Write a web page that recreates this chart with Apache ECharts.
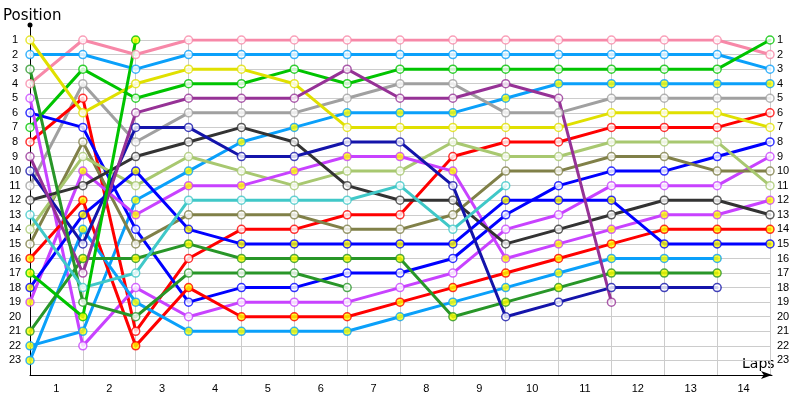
<!DOCTYPE html>
<html>
<head>
<meta charset="utf-8">
<script src="https://cdn.jsdelivr.net/npm/echarts@6/dist/echarts.min.js"></script>
<style>
    html, body { margin: 0; padding: 0; background: #fff; }
    #chart { width: 800px; height: 400px; }
</style>
</head>
<body>
<div id="chart"></div>
<script>
    // 圈数标签（写在两个计时点中间）
    let lapLabels = ['1', '2', '3', '4', '5', '6', '7', '8', '9', '10', '11', '12', '13', '14']
    // 名次标签
    let positionLabels = ['1', '2', '3', '4', '5', '6', '7', '8', '9', '10', '11', '12',
        '13', '14', '15', '16', '17', '18', '19', '20', '21', '22', '23']

    // 每辆车在计时点 0..14 的名次，提前退赛的数组较短
    let yellow1 = [1, 6, 4, 3, 3, 4, 7, 7, 7, 7, 7, 6, 6, 6, 7]
    let sky1 = [2, 2, 3, 2, 2, 2, 2, 2, 2, 2, 2, 2, 2, 2, 3]
    let darkGreen1 = [3, 19, 20, 17, 17, 17, 18]
    let pink1 = [4, 1, 2, 1, 1, 1, 1, 1, 1, 1, 1, 1, 1, 1, 2]
    let violet1 = [5, 22, 18, 20, 19, 19, 19, 18, 17, 14, 13, 11, 11, 11, 9]
    let blue1 = [6, 7, 14, 19, 18, 18, 17, 17, 16, 13, 11, 10, 10, 9, 8]
    let green1 = [7, 3, 5, 4, 4, 3, 4, 3, 3, 3, 3, 3, 3, 3, 1]
    let red1 = [8, 5, 21, 16, 14, 14, 13, 13, 9, 8, 8, 7, 7, 7, 6]
    let purple1 = [9, 17, 6, 5, 5, 5, 3, 5, 5, 4, 5, 19]
    let navy1 = [10, 15, 7, 7, 9, 9, 8, 8, 11, 20, 19, 18, 18, 18]
    let grey1 = [11, 4, 8, 6, 6, 6, 5, 4, 4, 6, 6, 5, 5, 5, 5]
    let darkGrey1 = [12, 11, 9, 8, 7, 8, 11, 12, 12, 15, 14, 13, 12, 12, 13]
    let turquoise1 = [13, 18, 17, 12, 12, 12, 12, 11, 14, 11]
    let lightGreen1 = [14, 9, 11, 9, 10, 11, 10, 10, 8, 9, 9, 8, 8, 8, 11]
    let olive1 = [15, 8, 15, 13, 13, 13, 14, 14, 13, 10, 10, 9, 9, 10, 10]
    let red2 = [16, 12, 22, 18, 20, 20, 20, 19, 18, 17, 16, 15, 14, 14, 14]
    let green2 = [17, 20, 1]
    let blue2 = [18, 13, 10, 14, 15, 15, 15, 15, 15, 12, 12, 12, 15, 15, 15]
    let violet2 = [19, 10, 13, 11, 11, 10, 9, 9, 10, 16, 15, 14, 13, 13, 12]
    let darkGreen2 = [21, 16, 16, 15, 16, 16, 16, 16, 20, 19, 18, 17, 17, 17]
    let sky2 = [22, 21, 12, 10, 8, 7, 6, 6, 6, 5, 4, 4, 4, 4, 4]
    let sky3 = [23, 14, 19, 21, 21, 21, 21, 20, 19, 18, 17, 16, 16, 16]

    const WHITE = '#ffffff', YELLOW = '#ffff00'

    // 车辆样式：线色 + 点的填充色
    let cars = [
        {data: pink1, color: '#f788a8', fill: WHITE},
        {data: sky1, color: '#0aa0fa', fill: WHITE},
        {data: green1, color: '#00c400', fill: WHITE},
        {data: sky2, color: '#0aa0fa', fill: YELLOW},
        {data: grey1, color: '#a0a0a0', fill: WHITE},
        {data: red1, color: '#ff0000', fill: WHITE},
        {data: yellow1, color: '#e0e000', fill: WHITE},
        {data: blue1, color: '#0000ff', fill: WHITE},
        {data: violet1, color: '#c842ff', fill: WHITE},
        {data: olive1, color: '#808048', fill: WHITE},
        {data: lightGreen1, color: '#a8c870', fill: WHITE},
        {data: violet2, color: '#c842ff', fill: YELLOW},
        {data: darkGrey1, color: '#333333', fill: WHITE},
        {data: red2, color: '#ff0000', fill: YELLOW},
        {data: blue2, color: '#0000ff', fill: YELLOW},
        {data: sky3, color: '#0aa0fa', fill: YELLOW},
        {data: darkGreen2, color: '#289628', fill: YELLOW},
        {data: navy1, color: '#1414aa', fill: WHITE},
        {data: purple1, color: '#963296', fill: WHITE},
        {data: darkGreen1, color: '#289628', fill: WHITE},
        {data: turquoise1, color: '#40c8c8', fill: WHITE},
        {data: green2, color: '#00c400', fill: YELLOW}
    ]

    const labelFont = {color: '#000', fontSize: 11, fontFamily: 'Liberation Sans'}

    function toPoints(arr) {
        return arr.map((p, i) => [i, p])
    }

    let series = []
    // 先画所有折线
    cars.forEach(c => {
        series.push({
            type: 'line',
            xAxisIndex: 0,
            yAxisIndex: 0,
            data: toPoints(c.data),
            symbol: 'none',
            z: 2,
            lineStyle: {color: c.color, width: 3, cap: 'round', join: 'round'},
            silent: true
        })
    })
    // 再画所有圆点，压在线上
    cars.forEach(c => {
        series.push({
            type: 'scatter',
            xAxisIndex: 0,
            yAxisIndex: 0,
            data: toPoints(c.data),
            symbol: 'circle',
            symbolSize: 8,
            z: 3,
            itemStyle: {color: c.fill, borderColor: c.color, borderWidth: 1.5},
            silent: true
        })
    })

    let option = {
        animation: false,
        backgroundColor: '#fff',
        grid: [
            {left: 30, right: 30, top: 40, bottom: 25},
            // 只用来画带箭头的坐标轴线
            {left: 30, top: 25, width: 742, bottom: 25}
        ],
        xAxis: [
            {
                gridIndex: 0, type: 'value', min: 0, max: 14, interval: 1, position: 'bottom',
                axisLine: {show: false}, axisTick: {show: false}, axisLabel: {show: false},
                splitLine: {show: true, lineStyle: {color: '#cccccc', width: 1}}
            },
            {
                gridIndex: 0, type: 'value', min: 0, max: 14, interval: 0.5, position: 'bottom',
                axisLine: {show: false}, axisTick: {show: false}, splitLine: {show: false},
                axisLabel: Object.assign({
                    margin: 8,
                    formatter: v => (v % 1 !== 0 ? lapLabels[Math.floor(v)] : '')
                }, labelFont)
            },
            {
                gridIndex: 1, type: 'value', min: 0, max: 1,
                axisLine: {
                    show: true, onZero: false,
                    lineStyle: {color: '#000', width: 1},
                    symbol: ['none', 'arrow'], symbolSize: [6, 11]
                },
                axisTick: {show: false}, axisLabel: {show: false}, splitLine: {show: false}
            }
        ],
        yAxis: [
            {
                gridIndex: 0, type: 'value', inverse: true, min: 1, max: 24, interval: 1, position: 'left',
                axisLine: {show: false}, axisTick: {show: false},
                splitLine: {show: true, lineStyle: {color: '#cccccc', width: 1}},
                axisLabel: Object.assign({
                    margin: 15, align: 'center',
                    formatter: v => positionLabels[v - 1] || ''
                }, labelFont)
            },
            {
                gridIndex: 0, type: 'value', inverse: true, min: 1, max: 24, interval: 1, position: 'right',
                axisLine: {show: false}, axisTick: {show: false}, splitLine: {show: false},
                axisLabel: Object.assign({
                    margin: 7, align: 'left',
                    formatter: v => positionLabels[v - 1] || ''
                }, labelFont)
            },
            {
                gridIndex: 1, type: 'value', min: 0, max: 1,
                axisLine: {
                    show: true, onZero: false,
                    lineStyle: {color: '#000', width: 1},
                    symbol: ['none', 'circle'], symbolSize: [5, 5]
                },
                axisTick: {show: false}, axisLabel: {show: false}, splitLine: {show: false}
            }
        ],
        graphic: [
            {type: 'text', left: 3, top: 9, style: {text: 'Position', font: '15px "DejaVu Sans"', fill: '#000'}},
            {type: 'text', left: 742, top: 357, style: {text: 'Laps', font: '14px "DejaVu Sans"', fill: '#000'}}
        ],
        series: series
    }

    let chart = echarts.init(document.getElementById('chart'), null, {renderer: 'canvas'})
    chart.setOption(option)
</script>
</body>
</html>
